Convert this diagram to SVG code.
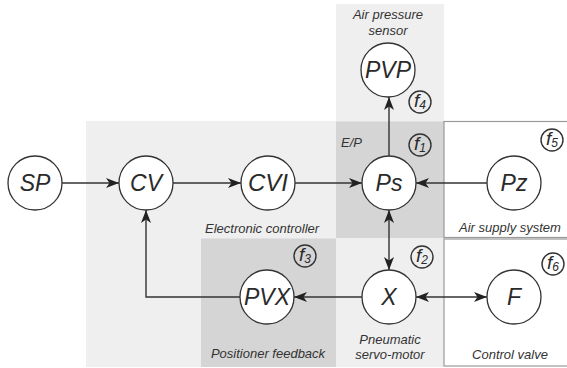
<svg xmlns="http://www.w3.org/2000/svg" width="567" height="368" viewBox="0 0 567 368">
<defs>
<style>
.light{fill:#efefef}
.dark{fill:#d5d5d5}
.box{fill:#ffffff;stroke:#9a9a9a;stroke-width:1.2}
.node circle{fill:#ffffff;stroke:#333333;stroke-width:1.3}
.node text{font-family:"Liberation Sans",Arial,sans-serif;font-style:italic;font-size:23px;fill:#2a2a2a;text-anchor:middle}
.fc circle{fill:none;stroke:#333333;stroke-width:1.4}
.fc text{font-family:"Liberation Sans",Arial,sans-serif;font-style:italic;font-size:19px;fill:#2a2a2a;text-anchor:middle}
.lbl{font-family:"Liberation Sans",Arial,sans-serif;font-style:italic;font-size:13px;fill:#333333}
.mid{text-anchor:middle}
.conn path{fill:none;stroke:#333333;stroke-width:1.4}
</style>
<marker id="arr" viewBox="0 0 13 10" refX="13" refY="5" markerWidth="13" markerHeight="10" markerUnits="userSpaceOnUse" orient="auto-start-reverse">
<path d="M0,0 L13,5 L0,10 L3.5,5 Z" fill="#222222"/>
</marker>
</defs>

<g id="regions">
<rect class="light" x="86" y="121" width="358" height="246"/>
<rect class="light" x="336" y="4" width="108" height="118"/>
<rect class="dark" x="336" y="121.5" width="108" height="116.5"/>
<rect class="dark" x="201" y="238.5" width="135" height="128.5"/>
<rect class="box" x="444" y="121.5" width="130" height="116"/>
<rect class="box" x="444" y="239" width="130" height="127"/>
</g>

<g id="labels">
<text class="lbl mid" x="388" y="19">Air pressure</text>
<text class="lbl mid" x="388" y="35">sensor</text>
<text class="lbl" x="341" y="147">E/P</text>
<text class="lbl" x="205" y="233">Electronic controller</text>
<text class="lbl mid" x="510" y="232">Air supply system</text>
<text class="lbl mid" x="268" y="358">Positioner feedback</text>
<text class="lbl mid" x="390" y="344">Pneumatic</text>
<text class="lbl mid" x="390" y="359">servo-motor</text>
<text class="lbl mid" x="510" y="359">Control valve</text>
</g>

<g id="connectors" class="conn">
<path d="M62,183 H119" marker-end="url(#arr)"/>
<path d="M173,183 H241" marker-end="url(#arr)"/>
<path d="M295,183 H362" marker-end="url(#arr)"/>
<path d="M487,183 H416" marker-end="url(#arr)"/>
<path d="M389,156 V97" marker-end="url(#arr)"/>
<path d="M389,210 V270" marker-start="url(#arr)" marker-end="url(#arr)"/>
<path d="M362,297 H294" marker-end="url(#arr)"/>
<path d="M416,297 H487" marker-start="url(#arr)" marker-end="url(#arr)"/>
<path d="M240,297 H146 V210" marker-end="url(#arr)"/>
</g>

<g id="SP" class="node"><circle cx="35" cy="183" r="27"/><text x="35" y="191">SP</text></g>
<g id="CV" class="node"><circle cx="146" cy="183" r="27"/><text x="146" y="191">CV</text></g>
<g id="CVI" class="node"><circle cx="268" cy="183" r="27"/><text x="268" y="191" style="font-size:24px">CVI</text></g>
<g id="Ps" class="node"><circle cx="389" cy="183" r="27"/><text x="389" y="191">Ps</text></g>
<g id="Pz" class="node"><circle cx="514" cy="183" r="27"/><text x="514" y="191">Pz</text></g>
<g id="PVP" class="node"><circle cx="388" cy="70" r="27"/><text x="388" y="78">PVP</text></g>
<g id="X" class="node"><circle cx="389" cy="297" r="27"/><text x="389" y="305">X</text></g>
<g id="PVX" class="node"><circle cx="267" cy="297" r="27"/><text x="267" y="305">PVX</text></g>
<g id="F" class="node"><circle cx="514" cy="297" r="27"/><text x="514" y="305">F</text></g>

<g id="f4" class="fc"><circle cx="420" cy="102" r="11"/><text x="420" y="107">f<tspan font-size="12" dy="2">4</tspan></text></g>
<g id="f1" class="fc"><circle cx="420" cy="145" r="11"/><text x="420" y="150">f<tspan font-size="12" dy="2">1</tspan></text></g>
<g id="f5" class="fc"><circle cx="552" cy="140" r="11"/><text x="552" y="145">f<tspan font-size="12" dy="2">5</tspan></text></g>
<g id="f3" class="fc"><circle cx="305" cy="256" r="11"/><text x="305" y="261">f<tspan font-size="12" dy="2">3</tspan></text></g>
<g id="f2" class="fc"><circle cx="422" cy="257" r="11"/><text x="422" y="262">f<tspan font-size="12" dy="2">2</tspan></text></g>
<g id="f6" class="fc"><circle cx="553" cy="264" r="11"/><text x="553" y="269">f<tspan font-size="12" dy="2">6</tspan></text></g>
</svg>
